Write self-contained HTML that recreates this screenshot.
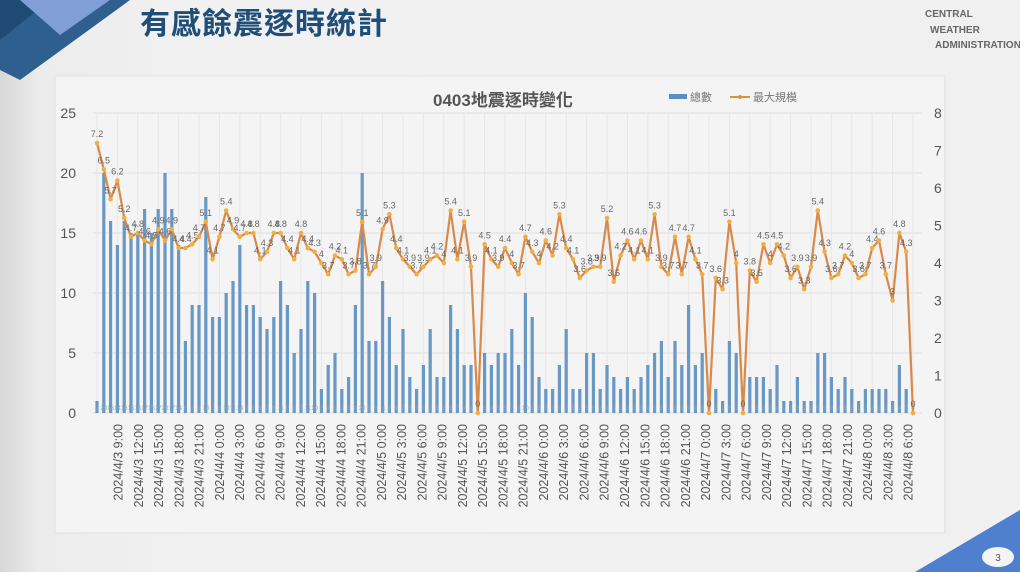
<!DOCTYPE html>
<html><head><meta charset="utf-8">
<style>
html,body{margin:0;padding:0;}
body{width:1020px;height:572px;overflow:hidden;position:relative;background:linear-gradient(90deg,#d8d8d8 0px,#ececec 40px,#f1f1f1 200px,#f0f0f0 100%);font-family:"Liberation Sans","Noto Sans CJK TC",sans-serif;}
svg{position:absolute;left:0;top:0;}
</style></head><body>
<svg id="s" width="1020" height="572" viewBox="0 0 1020 572" xmlns="http://www.w3.org/2000/svg">
<polygon points="0,0 130,0 20,80 0,70" fill="#2f5f8f"/>
<polygon points="0,0 50,0 0,40" fill="#1f4a75"/>
<polygon points="20,0 110,0 60,35" fill="#7f9fd6"/>
<text x="140" y="34" font-size="30" font-weight="bold" fill="#1f4e79" font-family="'Noto Sans CJK TC',sans-serif" letter-spacing="1">有感餘震逐時統計</text>
<text x="925" y="17" font-size="10" font-weight="bold" fill="#666">CENTRAL</text>
<text x="930" y="33" font-size="10" font-weight="bold" fill="#666">WEATHER</text>
<text x="935" y="48" font-size="10" font-weight="bold" fill="#666">ADMINISTRATION</text>
<rect x="55" y="76" width="890" height="457" fill="#f4f4f4" stroke="#e0e0e0"/>
<polygon points="915,572 1020,510 1020,572" fill="#4f7fcf"/>
<ellipse cx="998" cy="557" rx="16" ry="10" fill="#f4f4f4"/>
<text x="998" y="561" font-size="10" text-anchor="middle" fill="#555">3</text>
<text x="433" y="106" font-size="17" font-weight="bold" fill="#555" font-family="'Liberation Sans','Noto Sans CJK TC',sans-serif">0403地震逐時變化</text>
<rect x="669" y="94" width="18" height="5" fill="#5b8fc0"/>
<text x="690" y="101" font-size="11" fill="#777" font-family="'Noto Sans CJK TC',sans-serif">總數</text>
<line x1="730" y1="97" x2="750" y2="97" stroke="#e0913a" stroke-width="2"/>
<circle cx="740" cy="97" r="2" fill="#e0913a"/>
<text x="753" y="101" font-size="11" fill="#777" font-family="'Noto Sans CJK TC',sans-serif">最大規模</text>
<g id="g"></g>
</svg>
<script>
var g=document.getElementById('g'),h='';
var X0=97,ST=6.8,Y0=413;
for(var i=0;i<=5;i++){var y=Y0-60*i;h+='<line x1="93" x2="922" y1="'+y+'" y2="'+y+'" stroke="#dedede"/>';h+='<text x="76" y="'+(y+5)+'" font-size="14" fill="#555" text-anchor="end">'+(5*i)+'</text>';}
for(var i=0;i<=8;i++){var y=Y0-37.5*i;h+='<text x="934" y="'+(y+5)+'" font-size="14" fill="#555">'+i+'</text>';}
for(var i=0;i<41;i++){var x=97+20.4*i;h+='<line x1="'+x+'" x2="'+x+'" y1="113" y2="413" stroke="#e6e6e6"/>';}
var bars=[1,20,16,14,16,15,15,17,15,17,20,17,14,6,9,9,18,8,8,10,11,14,9,9,8,7,8,11,9,5,7,11,10,2,4,5,2,3,9,20,6,6,11,8,
4,7,3,2,4,7,3,3,9,7,4,4,0,5,4,5,5,7,4,10,8,3,2,2,4,7,2,2,5,5,2,4,3,2,3,2,3,4,5,6,3,6,
4,9,4,5,0,2,1,6,5,0,3,3,3,2,4,1,1,3,1,1,5,5,3,2,3,2,1,2,2,2,2,1,4,2,0];
var line=[7.2,6.5,5.7,6.2,5.2,4.7,4.8,4.6,4.5,4.9,4.6,4.9,4.4,4.4,4.5,4.7,5.1,4.1,4.7,5.4,4.9,4.7,4.8,4.8,4.1,4.3,4.8,4.8,4.4,4.1,4.8,4.4,4.3,4,3.7,4.2,4.1,3.7,3.8,5.1,3.7,3.9,4.9,5.3,
4.4,4.1,3.9,3.7,3.9,4.1,4.2,4,5.4,4.1,5.1,3.9,0,4.5,4.1,3.9,4.4,4,3.7,4.7,4.3,4,4.6,4.2,5.3,4.4,4.1,3.6,3.8,3.9,3.9,5.2,3.5,4.2,4.6,4.1,4.6,4.1,5.3,3.9,3.7,4.7,
3.7,4.7,4.1,3.7,0,3.6,3.3,5.1,4,0,3.8,3.5,4.5,4,4.5,4.2,3.6,3.9,3.3,3.9,5.4,4.3,3.6,3.7,4.2,4,3.6,3.7,4.4,4.6,3.7,3,4.8,4.3,0];
for(var n=0;n<bars.length;n++){var x=X0+ST*n;if(bars[n]>0)h+='<rect x="'+(x-1.6)+'" y="'+(Y0-12*bars[n])+'" width="3.2" height="'+(12*bars[n])+'" fill="#6a98c4"/>';
h+='<text x="'+x+'" y="410" font-size="6" fill="#8aa" text-anchor="middle">'+bars[n]+'</text>';}
var p='';for(var n=0;n<line.length;n++){var x=X0+ST*n,y=Y0-37.5*line[n];p+=(n?'L':'M')+x.toFixed(1)+','+y.toFixed(1);}
h+='<path d="'+p+'" fill="none" stroke="#d9894a" stroke-width="2.2" stroke-linejoin="round"/>';
for(var n=0;n<line.length;n++){var x=X0+ST*n,y=Y0-37.5*line[n];h+='<circle cx="'+x+'" cy="'+y+'" r="2.3" fill="#f0b040"/>';
h+='<text x="'+x+'" y="'+(y-6)+'" font-size="9" fill="#666" text-anchor="middle">'+line[n]+'</text>';}
var days=['3','3','3','3','3'],labs=[];
[9,12,15,18,21].forEach(function(t){labs.push('2024/4/3 '+t+':00');});
[4,5,6,7].forEach(function(d){[0,3,6,9,12,15,18,21].forEach(function(t){labs.push('2024/4/'+d+' '+t+':00');});});
[0,3,6].forEach(function(t){labs.push('2024/4/8 '+t+':00');});
for(var i=0;i<labs.length;i++){var x=118+20.26*i;h+='<text transform="translate('+(x+4.5)+',424) rotate(-90)" font-size="12.5" fill="#555" text-anchor="end">'+labs[i]+'</text>';}
g.innerHTML=h;
</script>
</body></html>
